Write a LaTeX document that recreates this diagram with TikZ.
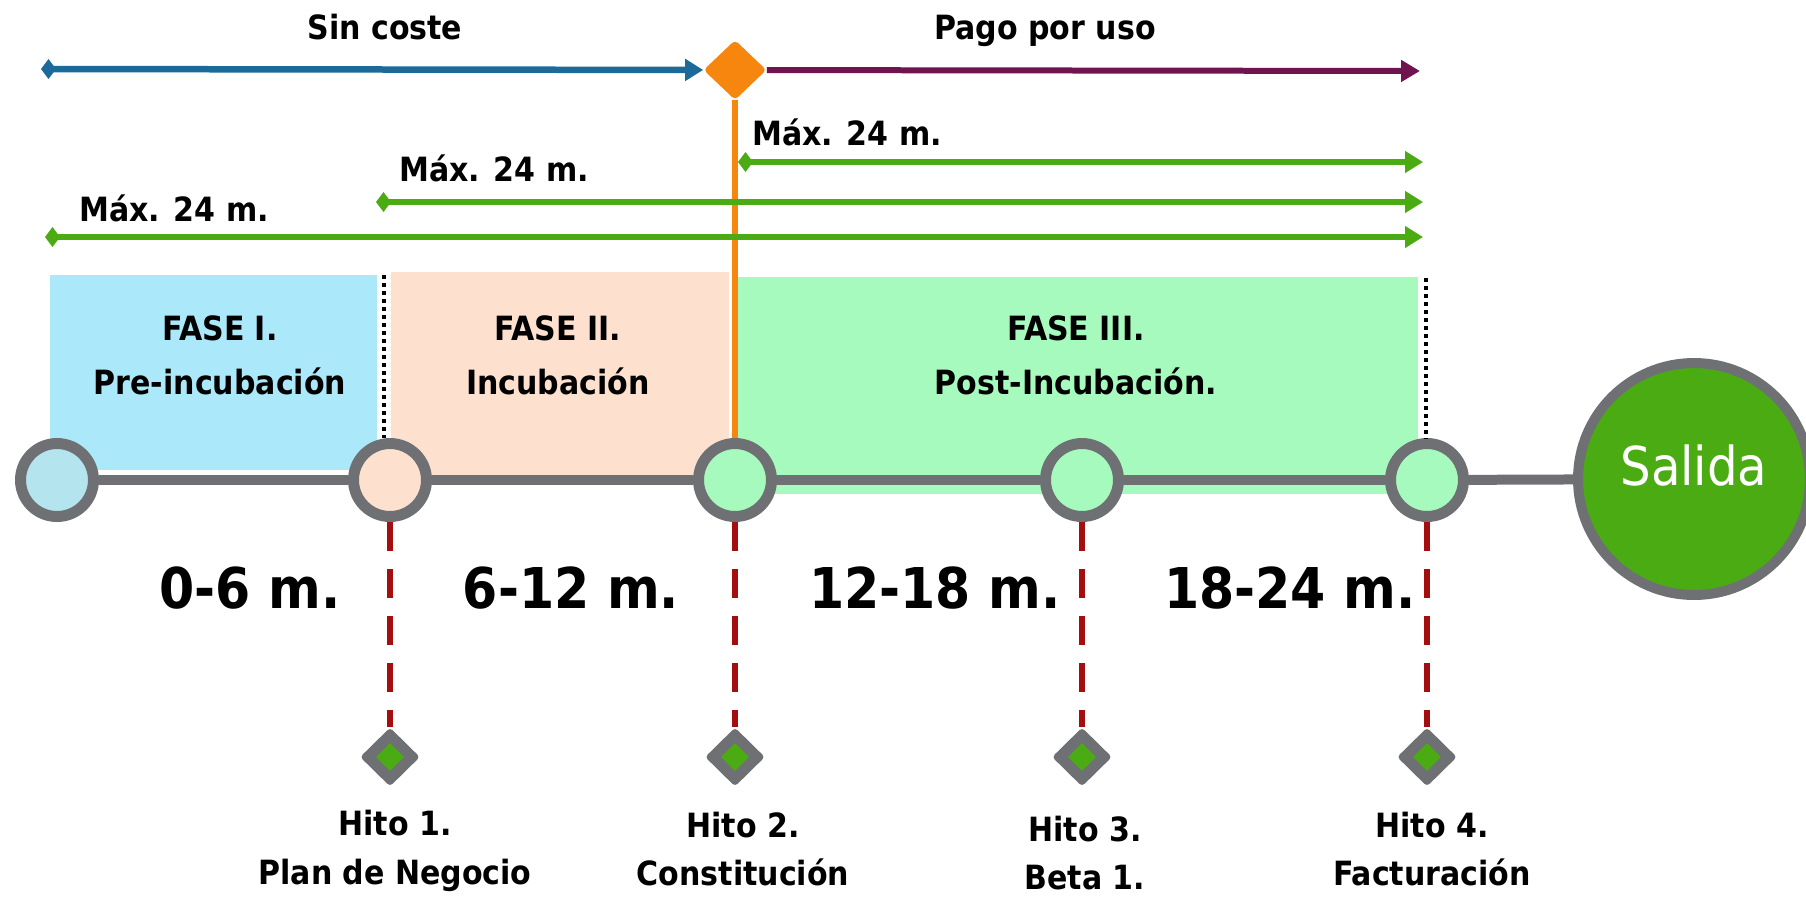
\documentclass[tikz,border=0pt]{standalone}
\usepackage{fontspec}
\setmainfont{DejaVu Sans Condensed}[BoldFont={DejaVu Sans Condensed Bold}]
\usetikzlibrary{arrows.meta,shapes.geometric}

\definecolor{costeblue}{RGB}{27,106,153}
\definecolor{pagopurple}{RGB}{112,20,80}
\definecolor{cambioorange}{RGB}{247,134,15}
\definecolor{maxgreen}{RGB}{74,172,18}
\definecolor{ringgray}{RGB}{110,112,116}
\definecolor{hitored}{RGB}{165,14,14}
\definecolor{faseblue}{RGB}{170,232,250}
\definecolor{fasepeach}{RGB}{253,225,206}
\definecolor{fasegreen}{RGB}{166,250,190}
\definecolor{inicioblue}{RGB}{180,228,238}

\begin{document}
\begin{tikzpicture}[x=0.02cm, y=-0.02cm,
	lbl/.style = {font=\fontsize{19}{23}\selectfont\bfseries, inner sep=0pt},
	fase/.style = {font=\fontsize{19}{30.6}\selectfont\bfseries, align=center, inner sep=0pt},
	hitolbl/.style = {font=\fontsize{19}{27.8}\selectfont\bfseries, align=center, inner sep=0pt},
	periodo/.style = {font=\fontsize{32}{38}\selectfont\bfseries, inner sep=0pt},
	etapa/.style = {circle,
		draw=ringgray,
		line width=0.22cm,
		minimum size=1.46cm,
		inner sep=0pt},
	salida/.style = {circle,
		draw=ringgray,
		fill=maxgreen,
		line width=0.2cm,
		minimum size=4.64cm,
		text=white,
		text height=23pt,
		text depth=16pt,
		font=\fontsize{30.5}{36}\selectfont},
	cambio/.style = {diamond,
		fill=cambioorange,
		rounded corners=0.08cm,
		minimum width=1.26cm,
		minimum height=1.2cm,
		inner sep=0pt},
	hito/.style = {diamond,
		fill=ringgray,
		rounded corners=0.07cm,
		minimum width=1.2cm,
		minimum height=1.18cm,
		inner sep=0pt},
	hitodot/.style = {diamond,
		fill=maxgreen,
		minimum width=0.56cm,
		minimum height=0.56cm,
		inner sep=0pt},
	linea/.style = {draw=ringgray, line width=0.2cm},
	coste/.style = {draw=costeblue, line width=0.13cm,
		{Diamond[length=0.3cm,width=0.4cm]}-{Triangle[length=0.36cm,width=0.42cm]}},
	pago/.style = {draw=pagopurple, line width=0.12cm,
		-{Triangle[length=0.38cm,width=0.42cm]}},
	maximo/.style = {draw=maxgreen, line width=0.12cm,
		{Diamond[length=0.3cm,width=0.4cm]}-{Triangle[length=0.36cm,width=0.42cm]}},
	hitoline/.style = {draw=hitored, line width=0.11cm, dash pattern=on 0.58cm off 0.36cm},
	sep/.style = {draw=black, line width=0.07cm, dash pattern=on 0.08cm off 0.08cm}]

	\useasboundingbox (0,0) rectangle (1806,897);

	\fill[faseblue] (50,275) rectangle (377,470);
	\fill[fasepeach] (391,272) rectangle (729,481);
	\fill[fasegreen] (738,277) rectangle (1418,494);

	\node[fase] (f1) at (220,355) {FASE I.\\Pre-incubación};
	\node[fase] (f2) at (558,355) {FASE II.\\Incubación};
	\node[fase] (f3) at (1076,355) {FASE III.\\Post-Incubación.};

	\node[etapa, fill=inicioblue] (c0) at (57,480) {};
	\node[etapa, fill=fasepeach] (c1) at (390,480) {};
	\node[etapa, fill=fasegreen] (c2) at (735,480) {};
	\node[etapa, fill=fasegreen] (c3) at (1082,480) {};
	\node[etapa, fill=fasegreen] (c4) at (1427,480) {};
	\node[salida] (out) at (1694,479) {Salida};

	\foreach \a/\b in {c0/c1, c1/c2, c2/c3, c3/c4, c4/out}
		\draw[linea] (\a) -- (\b);

	\coordinate (d1) at (384,275);
	\coordinate (d2) at (1426,278);
	\draw[sep] (d1) -- (d1 |- c1.north);
	\draw[sep] (d2) -- (d2 |- c4.north);

	\node[cambio] (cambio) at (735,70) {};
	\coordinate (sc) at (41,69);
	\coordinate (pu) at (1420,71);
	\draw[coste] (sc) -- (cambio);
	\draw[pago] (cambio) -- (pu);
	\draw[cambioorange, line width=0.12cm] (cambio) -- (c2);

	\node[lbl, anchor=base] (sincoste) at (385,39) {Sin coste};
	\node[lbl, anchor=base] (pagouso) at (1045,39) {Pago por uso};

	\coordinate (m1a) at (738,162);
	\coordinate (m1b) at (1423,162);
	\coordinate (m2a) at (376,202);
	\coordinate (m2b) at (1423,202);
	\coordinate (m3a) at (45,237);
	\coordinate (m3b) at (1423,237);
	\draw[maximo] (m1a) -- (m1b);
	\draw[maximo] (m2a) -- (m2b);
	\draw[maximo] (m3a) -- (m3b);
	\node[lbl, anchor=base] (max1) at (847,145) {Máx. 24 m.};
	\node[lbl, anchor=base] (max2) at (494,181) {Máx. 24 m.};
	\node[lbl, anchor=base] (max3) at (174,221) {Máx. 24 m.};

	\node[periodo] (p1) at (250,588) {0-6 m.};
	\node[periodo] (p2) at (571,588) {6-12 m.};
	\node[periodo] (p3) at (935,588) {12-18 m.};
	\node[periodo] (p4) at (1290,588) {18-24 m.};

	\node[hito] (h1) at (390,757) {};
	\node[hito] (h2) at (735,757) {};
	\node[hito] (h3) at (1082,757) {};
	\node[hito] (h4) at (1427,757) {};
	\foreach \i in {1,...,4}{
		\node[hitodot] (h\i dot) at (h\i) {};
		\draw[hitoline] (c\i) -- (h\i);
	}

	\node[hitolbl] (l1) at (395,851) {Hito 1.\\Plan de Negocio};
	\node[hitolbl] (l2) at (743,849) {Hito 2.\\Constitución};
	\node[hitolbl] (l3) at (1085,853) {Hito 3.\\Beta 1.};
	\node[hitolbl] (l4) at (1432,849) {Hito 4.\\Facturación};

\end{tikzpicture}
\end{document}
